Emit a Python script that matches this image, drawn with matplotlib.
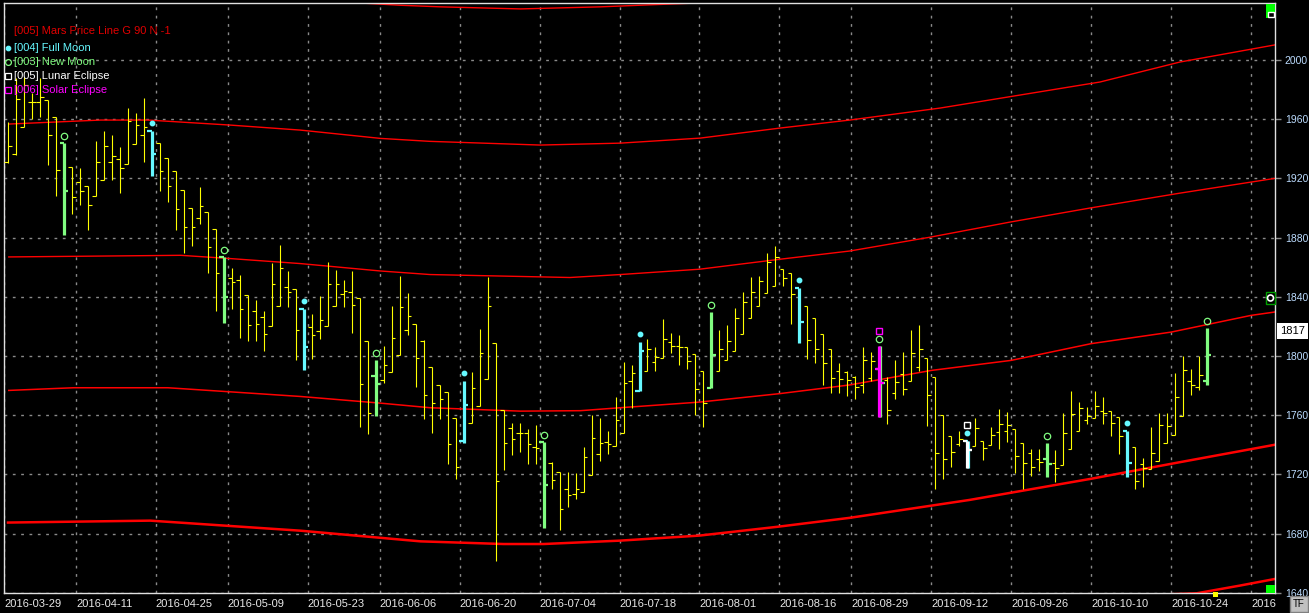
import numpy as np
import matplotlib
matplotlib.use("Agg")
import matplotlib.pyplot as plt
from matplotlib.transforms import offset_copy, blended_transform_factory
from matplotlib.patches import Rectangle, Ellipse

plt.rcParams['font.family'] = ['Liberation Sans', 'DejaVu Sans']

# daily OHLC, one bar per trading day from 2016-03-29
opens = [1931.0, 1936.3, 1954.8, 1971.5, 1971.4, 1973.1, 1961.6, 1944.2, 1927.7, 1917.6,
         1914.6, 1907.9, 1919.1, 1931.1, 1932.9, 1929.5, 1943.1, 1949.4, 1952.1, 1944.2,
         1934.0, 1925.0, 1911.9, 1899.7, 1893.4, 1897.0, 1885.5, 1867.0, 1852.8, 1851.2,
         1841.5, 1830.7, 1826.4, 1820.5, 1834.0, 1846.5, 1844.9, 1831.8, 1819.4, 1816.7,
         1820.5, 1833.6, 1841.9, 1843.3, 1839.2, 1809.9, 1786.2, 1783.5, 1788.9, 1800.9,
         1817.8, 1821.6, 1810.3, 1792.6, 1780.2, 1775.4, 1757.8, 1742.5, 1754.4, 1766.2,
         1784.2, 1808.6, 1763.5, 1751.5, 1747.7, 1747.7, 1738.4, 1742.0, 1727.8, 1721.5,
         1709.8, 1706.4, 1708.2, 1719.5, 1733.5, 1742.0, 1739.1, 1747.7, 1783.0, 1776.3,
         1789.9, 1796.0, 1798.5, 1809.5, 1806.8, 1805.7, 1801.2, 1789.9, 1778.6, 1789.9,
         1797.3, 1803.4, 1814.7, 1825.6, 1833.9, 1842.5, 1847.0, 1858.7, 1855.8, 1845.6,
         1833.9, 1825.6, 1814.7, 1804.6, 1790.0, 1789.0, 1785.5, 1780.3, 1785.0, 1791.1,
         1783.7, 1774.7, 1787.7, 1783.2, 1792.7, 1798.6, 1785.5, 1760.0, 1745.6, 1740.5,
         1742.3, 1739.3, 1742.3, 1739.8, 1748.3, 1749.0, 1750.6, 1741.1, 1734.4, 1730.3,
         1730.3, 1727.4, 1726.3, 1737.0, 1749.0, 1756.7, 1758.0, 1762.5, 1763.0, 1758.9,
         1749.5, 1738.2, 1727.0, 1723.6, 1729.2, 1741.1, 1746.5, 1759.6, 1783.2, 1778.7,
         1783.2]
highs = [1958.0, 1988.0, 1988.5, 1977.5, 1987.5, 1973.1, 1961.6, 1944.2, 1927.7, 1926.8,
         1914.6, 1945.3, 1952.1, 1949.4, 1941.5, 1967.4, 1964.1, 1974.2, 1952.1, 1944.2,
         1934.0, 1925.0, 1911.9, 1899.7, 1914.2, 1897.0, 1885.5, 1867.0, 1859.1, 1855.0,
         1841.5, 1838.1, 1830.7, 1862.9, 1874.9, 1857.3, 1844.9, 1831.8, 1828.6, 1840.4,
         1863.4, 1858.2, 1851.2, 1857.3, 1839.2, 1809.9, 1797.5, 1807.0, 1834.0, 1853.9,
         1842.2, 1821.6, 1810.6, 1792.6, 1780.2, 1775.4, 1757.8, 1783.1, 1789.0, 1818.1,
         1853.1, 1808.6, 1763.5, 1754.9, 1754.9, 1750.8, 1753.1, 1742.0, 1728.3, 1721.5,
         1721.5, 1721.0, 1738.4, 1759.9, 1757.8, 1749.3, 1772.3, 1796.0, 1793.7, 1809.5,
         1811.3, 1806.1, 1824.9, 1815.4, 1814.0, 1805.7, 1801.2, 1789.9, 1829.4, 1817.4,
         1821.0, 1832.3, 1843.4, 1853.5, 1854.2, 1869.6, 1874.5, 1858.7, 1855.8, 1845.6,
         1833.9, 1825.6, 1814.7, 1804.6, 1794.9, 1789.5, 1786.6, 1806.2, 1802.4, 1806.4,
         1786.0, 1797.2, 1802.4, 1817.5, 1821.1, 1798.6, 1785.5, 1760.0, 1745.6, 1749.5,
         1742.7, 1757.8, 1742.3, 1751.7, 1764.1, 1762.3, 1750.6, 1741.1, 1737.1, 1737.1,
         1741.1, 1736.4, 1761.4, 1776.0, 1768.6, 1765.2, 1776.0, 1772.0, 1763.0, 1758.9,
         1749.5, 1738.2, 1730.8, 1751.7, 1761.4, 1761.4, 1788.4, 1800.0, 1791.1, 1800.0,
         1818.6]
lows = [1930.5, 1936.0, 1954.8, 1960.0, 1961.8, 1928.8, 1908.0, 1881.7, 1895.7, 1901.8,
        1884.8, 1907.9, 1919.1, 1919.1, 1910.3, 1929.5, 1943.1, 1931.1, 1921.6, 1911.5,
        1904.2, 1884.8, 1869.7, 1874.4, 1888.9, 1856.2, 1830.7, 1822.3, 1831.8, 1812.1,
        1809.9, 1809.9, 1803.6, 1820.5, 1834.0, 1833.1, 1797.5, 1790.2, 1798.1, 1811.7,
        1820.5, 1833.6, 1833.1, 1815.5, 1751.9, 1747.4, 1759.1, 1781.4, 1788.9, 1800.9,
        1814.4, 1778.7, 1757.6, 1748.1, 1757.6, 1726.7, 1716.5, 1741.4, 1754.4, 1766.2,
        1784.2, 1661.7, 1722.6, 1733.0, 1735.0, 1726.7, 1726.7, 1683.8, 1710.2, 1682.7,
        1698.0, 1703.4, 1708.2, 1719.5, 1728.9, 1733.5, 1739.1, 1747.7, 1765.0, 1776.3,
        1789.9, 1789.9, 1798.5, 1802.3, 1793.7, 1791.0, 1760.1, 1752.2, 1778.6, 1789.9,
        1797.3, 1803.4, 1814.7, 1825.6, 1833.9, 1842.5, 1847.0, 1847.0, 1821.5, 1808.6,
        1798.2, 1795.5, 1780.4, 1774.8, 1774.8, 1772.7, 1770.9, 1774.7, 1782.8, 1759.0,
        1754.0, 1770.9, 1773.6, 1783.2, 1789.5, 1752.4, 1710.0, 1716.8, 1724.7, 1738.9,
        1724.2, 1739.3, 1729.6, 1739.8, 1737.0, 1741.6, 1720.6, 1710.0, 1719.0, 1722.4,
        1718.4, 1714.5, 1726.3, 1737.0, 1749.0, 1754.0, 1758.0, 1754.0, 1745.6, 1733.7,
        1717.9, 1710.0, 1711.2, 1723.6, 1729.2, 1741.1, 1746.5, 1759.6, 1773.8, 1777.2,
        1780.5]
closes = [1941.7, 1973.5, 1983.0, 1971.5, 1975.2, 1949.4, 1925.5, 1911.5, 1907.6, 1911.5,
          1901.8, 1931.1, 1941.7, 1934.9, 1926.8, 1958.9, 1955.9, 1955.0, 1936.3, 1925.0,
          1914.6, 1899.5, 1887.3, 1887.3, 1901.1, 1873.5, 1856.2, 1839.9, 1849.8, 1831.8,
          1820.7, 1821.6, 1815.1, 1848.3, 1859.1, 1843.3, 1817.8, 1806.1, 1814.4, 1824.1,
          1848.3, 1848.3, 1844.2, 1834.7, 1781.2, 1761.6, 1781.2, 1794.1, 1812.1, 1833.1,
          1827.3, 1798.6, 1773.8, 1768.0, 1770.7, 1740.2, 1725.1, 1766.6, 1778.6, 1802.3,
          1833.5, 1715.4, 1740.9, 1743.6, 1747.7, 1740.2, 1738.0, 1712.7, 1716.1, 1696.7,
          1706.0, 1710.2, 1731.9, 1744.7, 1740.9, 1740.2, 1756.7, 1782.0, 1788.3, 1803.4,
          1805.0, 1799.0, 1811.3, 1807.0, 1806.0, 1796.7, 1777.5, 1768.4, 1800.5, 1805.0,
          1810.2, 1825.6, 1836.6, 1842.9, 1850.8, 1863.3, 1866.6, 1852.4, 1841.8, 1823.1,
          1810.7, 1804.6, 1795.1, 1785.0, 1784.2, 1784.0, 1778.7, 1797.2, 1796.8, 1781.7,
          1763.6, 1782.1, 1777.6, 1801.7, 1804.6, 1773.6, 1734.4, 1730.3, 1735.3, 1744.0,
          1736.6, 1751.0, 1737.7, 1746.5, 1754.0, 1753.3, 1732.1, 1727.6, 1724.7, 1728.0,
          1727.0, 1724.2, 1747.9, 1760.7, 1764.8, 1759.6, 1766.4, 1761.5, 1754.6, 1745.6,
          1727.6, 1715.7, 1724.0, 1734.2, 1753.5, 1752.4, 1772.4, 1790.5, 1780.5, 1787.3,
          1800.8]

full_moon = [18, 37, 57, 79, 99, 120, 140]
new_moon = [7, 27, 46, 67, 88, 109, 130, 150]
lunar_eclipse = [120]
solar_eclipse = [109]

tick_pos = [0, 9, 19, 28, 38, 47, 57, 67, 77, 87, 97, 106, 116, 126, 136, 146, 156]
tick_labels = ['2016-03-29', '2016-04-11', '2016-04-25', '2016-05-09', '2016-05-23',
               '2016-06-06', '2016-06-20', '2016-07-04', '2016-07-18', '2016-08-01',
               '2016-08-16', '2016-08-29', '2016-09-12', '2016-09-26', '2016-10-10',
               '2016-10-24', '2016']
price_ticks = [1640, 1680, 1720, 1760, 1800, 1840, 1880, 1920, 1960, 2000]
last_label = 1817

# Mars price lines (bar index, price)
mars_a_x = [44.1, 49.0, 54.1, 64.1, 74.1, 80.0, 86.2]
mars_a_y = [2038.5, 2037.0, 2035.9, 2034.5, 2035.9, 2037.2, 2038.5]
mars_b_x = [0.1, 11.6, 17.5, 27.8, 36.6, 46.6, 52.8, 66.6, 76.6, 86.6, 96.6, 105.3, 116.6, 126.6, 136.6, 146.6, 158.5]
mars_b_y = [1956.7, 1959.4, 1959.4, 1956.0, 1952.6, 1947.0, 1945.0, 1942.5, 1943.8, 1947.2, 1954.0, 1959.4, 1967.5, 1976.3, 1985.1, 1998.6, 2010.2]
mars_c_x = [0.1, 21.6, 27.8, 36.6, 46.6, 52.8, 70.3, 76.6, 86.5, 96.5, 105.3, 115.3, 125.3, 135.3, 146.6, 158.5]
mars_c_y = [1866.9, 1868.0, 1865.8, 1862.4, 1857.4, 1855.0, 1853.0, 1855.0, 1858.6, 1865.3, 1870.9, 1880.2, 1890.4, 1899.9, 1910.0, 1920.0]
mars_d_x = [0.1, 8.2, 20.0, 28.2, 36.6, 46.6, 52.8, 64.1, 71.6, 76.6, 86.5, 96.5, 105.3, 115.5, 125.5, 135.5, 145.5, 155.5, 158.5]
mars_d_y = [1776.7, 1778.5, 1778.5, 1775.6, 1772.6, 1768.1, 1765.0, 1762.7, 1763.0, 1765.0, 1768.8, 1774.5, 1780.4, 1790.2, 1797.0, 1808.3, 1816.1, 1827.4, 1829.7]
mars_e_x = [0.0, 17.8, 36.6, 51.6, 62.0, 67.0, 76.6, 86.5, 96.5, 105.3, 120.3, 135.5, 146.6, 158.5]
mars_e_y = [1687.4, 1688.7, 1681.9, 1674.7, 1672.9, 1672.9, 1675.2, 1678.6, 1684.7, 1690.6, 1702.7, 1717.0, 1728.2, 1740.0]
mars_f_x = [144.0, 148.7, 154.1, 158.5]
mars_f_y = [1638.7, 1639.6, 1644.8, 1649.3]

YELLOW = '#ffff00'
CYAN = '#66f8ff'
GREEN = '#80fc80'
MAGENTA = '#ff00ff'
RED = '#ff0000'
GRID = '#8a8a8a'

W, H = 1309, 613
fig = plt.figure(figsize=(W / 100, H / 100), dpi=100, facecolor='black')
ax = fig.add_axes([4 / W, 20 / H, 1271 / W, 590 / H])
ax.set_facecolor('black')
ax.set_xlim(-0.5, 158.5)
ax.set_ylim(1639.8, 2038.5)

# grid
for p in price_ticks:
    ax.axhline(p, color=GRID, lw=1, ls=(0, (2, 4)), zorder=0.5)
for t in tick_pos:
    ax.axvline(t - 0.5, color=GRID, lw=1, ls=(0, (2, 4)), zorder=0.5)

# Mars lines
for xs, ys, lw in [(mars_a_x, mars_a_y, 1.0), (mars_b_x, mars_b_y, 1.0),
                   (mars_c_x, mars_c_y, 1.0), (mars_d_x, mars_d_y, 1.1),
                   (mars_e_x, mars_e_y, 1.8), (mars_f_x, mars_f_y, 1.8)]:
    ax.plot(xs, ys, color=RED, lw=lw, zorder=2)

# ordinary bars
x = np.arange(len(opens))
o = np.array(opens); h = np.array(highs); l = np.array(lows); c = np.array(closes)
special = set(full_moon) | set(new_moon)
norm = np.array([i for i in x if i not in special])
ax.vlines(norm, l[norm], h[norm], color=YELLOW, lw=0.8, zorder=3)
ax.hlines(o[norm], norm - 0.45, norm, color=YELLOW, lw=0.8, zorder=3)
ax.hlines(c[norm], norm, norm + 0.45, color=YELLOW, lw=0.8, zorder=3)


def thick_bar(i, col, dx=0.0, z=4):
    xi = i + dx
    ax.vlines(xi, l[i], h[i], color=col, lw=2.3, zorder=z)
    ax.hlines(o[i], xi - 0.55, xi, color=col, lw=1.6, zorder=z)
    ax.hlines(c[i], xi, xi + 0.55, color=col, lw=1.6, zorder=z)


for i in new_moon:
    thick_bar(i, GREEN, dx=0.1 if i in solar_eclipse else 0.0)
for i in full_moon:
    thick_bar(i, CYAN, dx=0.1 if i in lunar_eclipse else 0.0)
for i in solar_eclipse:
    thick_bar(i, MAGENTA, z=5)
for i in lunar_eclipse:
    thick_bar(i, 'white', z=5)

# event markers above the highs
off8 = offset_copy(ax.transData, fig=fig, y=8, units='dots')
off7 = offset_copy(ax.transData, fig=fig, y=7, units='dots')
off15 = offset_copy(ax.transData, fig=fig, y=15.5, units='dots')
ax.plot(full_moon, h[full_moon], 'o', ms=3.2, color=CYAN, mec=CYAN, transform=off8, zorder=6)
ax.plot(new_moon, h[new_moon], 'o', ms=4.6, mfc='none', mec=GREEN, mew=0.9, transform=off7, zorder=6)
ax.plot(lunar_eclipse, h[lunar_eclipse], 's', ms=4.6, mfc='none', mec='white', mew=1.0, transform=off15, zorder=6)
ax.plot(solar_eclipse, h[solar_eclipse], 's', ms=4.6, mfc='none', mec=MAGENTA, mew=1.0, transform=off15, zorder=6)

# axes styling
for s in ax.spines.values():
    s.set_color('#e0e0e0')
    s.set_linewidth(1)
ax.yaxis.tick_right()
ax.set_yticks(price_ticks)
ax.set_yticklabels([str(p) for p in price_ticks])
ax.tick_params(axis='y', colors=GRID, length=4.5, width=1, pad=2.5, labelsize=7.5,
               labelcolor='#bcdcff')
ax.set_xticks([t - 0.5 for t in tick_pos])
ax.set_xticklabels(tick_labels)
ax.tick_params(axis='x', length=0, pad=4, labelsize=8, labelcolor='#e8e8e8')
for lab in ax.get_xticklabels():
    lab.set_horizontalalignment('left')

# last value box
tr = blended_transform_factory(ax.transAxes, ax.transData)
ax.annotate(str(last_label), xy=(1, last_label), xycoords=tr, xytext=(5, 0),
            textcoords='offset pixels', va='center', ha='left', fontsize=8, color='black',
            bbox=dict(boxstyle='square,pad=0.25', fc='white', ec='none'), annotation_clip=False)

# legend texts (figure pixel coords)
def fx(px):
    return px / W


def fy(py):
    return 1 - py / H


fig.text(fx(14), fy(30.5), '[005] Mars Price Line G 90 N -1', color='#e00000', fontsize=8, va='center')
leg = [('[004] Full Moon', CYAN, 'o', CYAN), ('[003] New Moon', GREEN, 'o', 'none'),
       ('[005] Lunar Eclipse', 'white', 's', 'none'), ('[006] Solar Eclipse', MAGENTA, 's', 'none')]
for k, (txt, col, mk, fc) in enumerate(leg):
    yy = 48 + 14 * k
    fig.text(fx(14), fy(yy), txt, color=col, fontsize=8, va='center')
    fig.add_artist(plt.Line2D([fx(8.3)], [fy(yy)], marker=mk, ms=3.2 if fc != 'none' else 4.2,
                              mfc=fc, mec=col, mew=0.9, transform=fig.transFigure))


def px_rect(x0, y0, x1, y1, **kw):
    fig.add_artist(Rectangle((fx(x0), fy(y1)), (x1 - x0) / W, (y1 - y0) / H,
                             transform=fig.transFigure, **kw))


# chart widgets
px_rect(1266, 4, 1275, 18, fc='#00ff00', ec='none')
px_rect(1268, 12, 1274, 17, fc='black', ec='white', lw=1)
px_rect(1266, 292, 1275, 304, fc='black', ec='#00a000', lw=1)
fig.add_artist(Ellipse((fx(1270.5), fy(298)), 6 / W, 6 / H, transform=fig.transFigure,
                       fc='black', ec='white', lw=1.2))
px_rect(1266, 585, 1275, 593, fc='#00ff00', ec='none')
px_rect(1213, 592, 1218, 597, fc=YELLOW, ec='none')
px_rect(1290, 596, 1308, 612, fc='#c0c0c0', ec='#808080', lw=1)
fig.text(fx(1299), fy(604), 'TF', color='black', fontsize=7, ha='center', va='center')

fig.savefig('out.png', dpi=100, facecolor='black')
